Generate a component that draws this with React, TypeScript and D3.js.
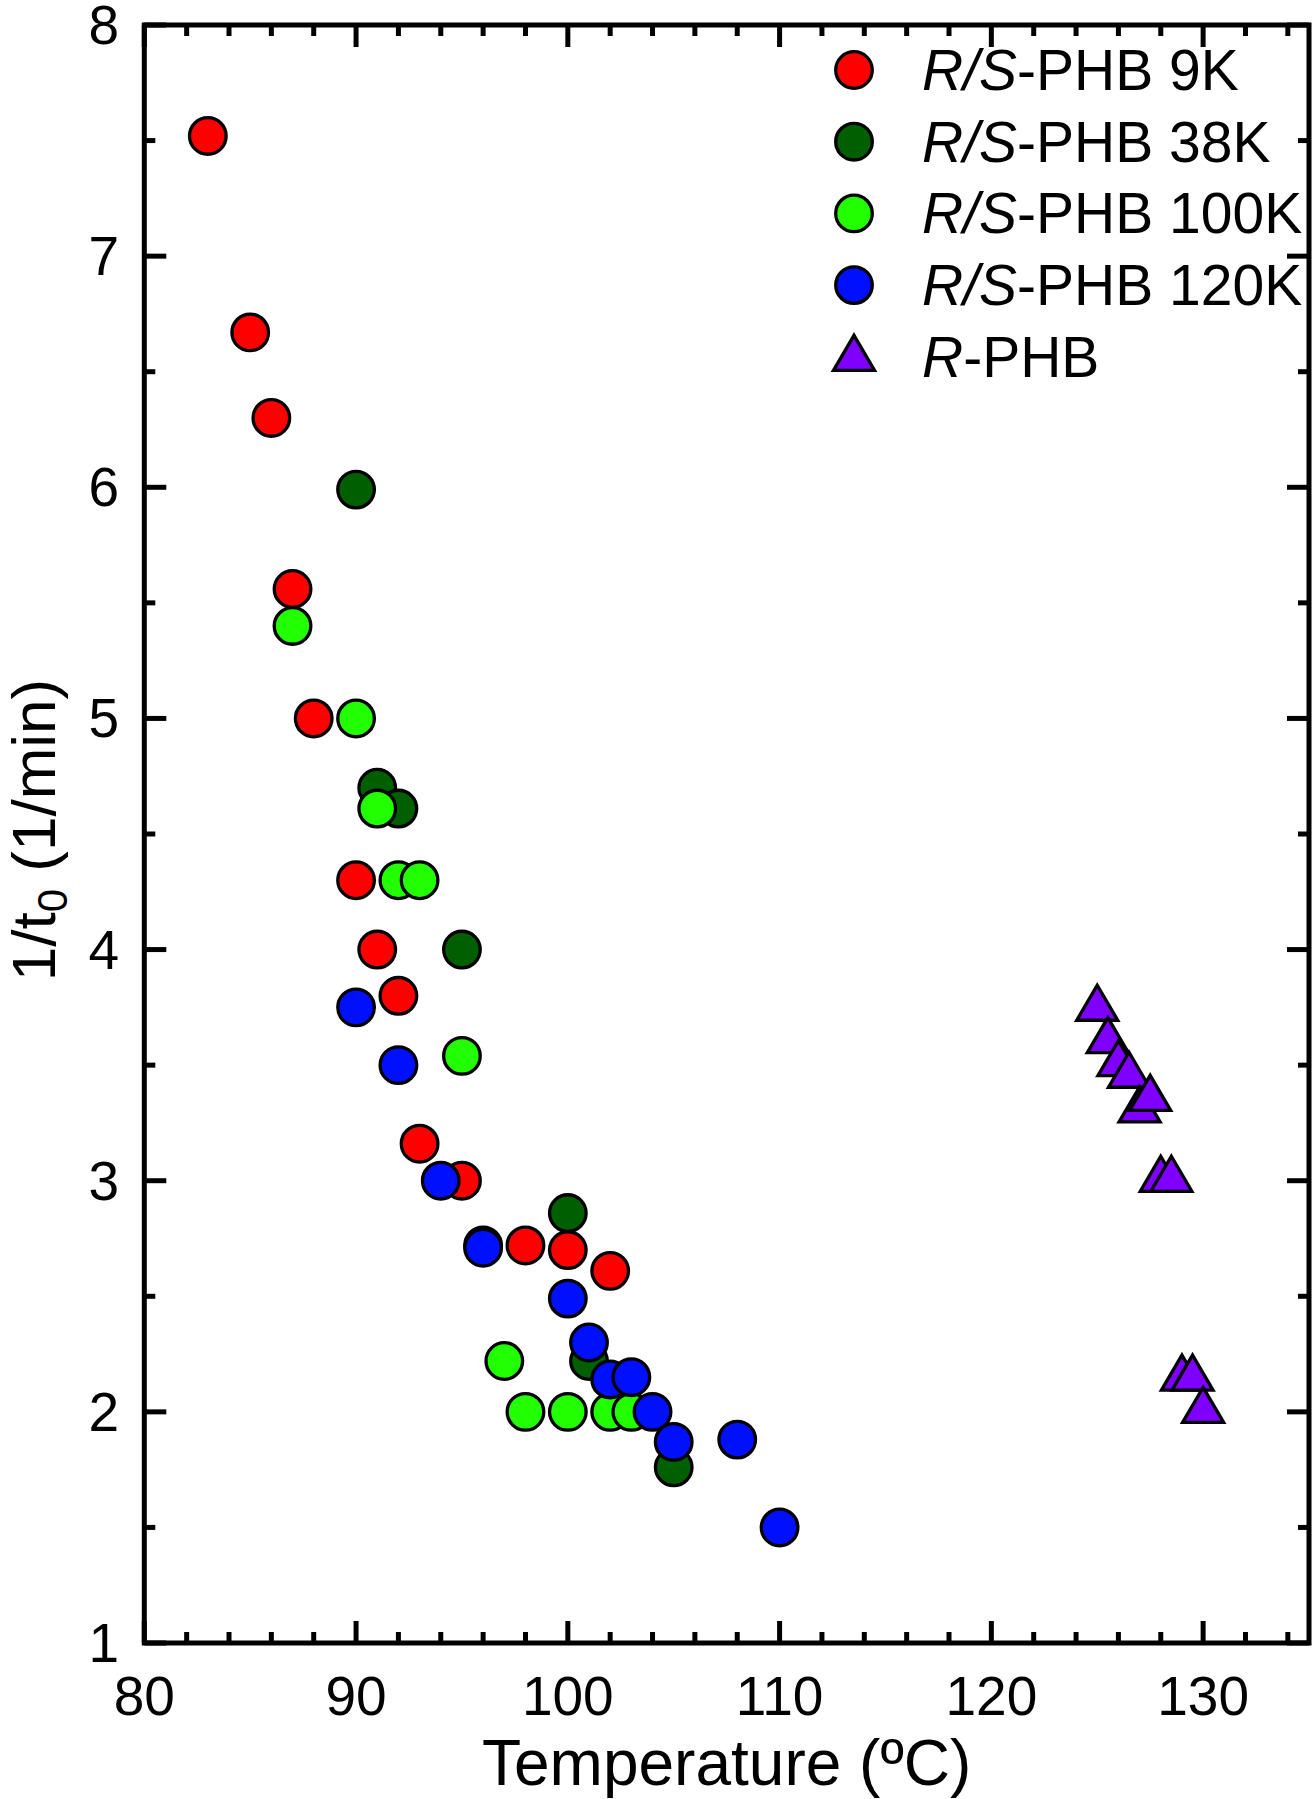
import React from 'react';
import * as d3 from 'd3';

// ---- data ----
const tempTicks = [80, 90, 100, 110, 120, 130];
const rateTicks = [1, 2, 3, 4, 5, 6, 7, 8];

const t9K = [83, 85, 86, 87, 88, 90, 91, 92, 93, 95, 96, 98, 100, 102];
const r9K = [7.52, 6.67, 6.30, 5.56, 5.00, 4.30, 4.00, 3.80, 3.16, 3.00, 2.72, 2.72, 2.70, 2.61];

const t38K = [90, 91, 92, 95, 100, 101, 105];
const r38K = [5.99, 4.70, 4.61, 4.00, 2.86, 2.22, 1.76];

const t100K = [87, 90, 91, 92, 93, 95, 97, 98, 100, 102, 103];
const r100K = [5.40, 5.00, 4.61, 4.30, 4.30, 3.54, 2.22, 2.00, 2.00, 2.00, 2.00];

const t120K = [90, 92, 94, 96, 100, 101, 102, 103, 104, 105, 108, 110];
const r120K = [3.75, 3.50, 3.00, 2.71, 2.49, 2.30, 2.14, 2.15, 2.00, 1.87, 1.88, 1.50];

const tR = [125, 125.5, 126, 126.5, 127, 127.5, 128, 128.5, 129, 129.5, 130];
const rR = [3.77, 3.63, 3.53, 3.48, 3.33, 3.38, 3.03, 3.03, 2.17, 2.17, 2.03];

const seriesNames = ['9K', '38K', '100K', '120K'];
const seriesColors = ['#ff0000', '#006000', '#22ff00', '#0010ff'];
const triColor = '#8000ff';

const W = 1315;
const H = 1799;
const FONT = '"Liberation Sans", Arial, Helvetica, sans-serif';

export default function App() {
  const x = d3.scaleLinear().domain([80, 135]).range([144.3, 1309]);
  const y = d3.scaleLinear().domain([1, 8]).range([1643, 25]);
  const [x0, x1] = x.range();
  const [y0, y1] = y.range();

  const xMinor = d3.range(80, 135.01, 2).filter((v) => v % 10 !== 0);
  const yMinor = d3.range(1.5, 8, 1);

  const seriesT = [t9K, t38K, t100K, t120K];
  const seriesR = [r9K, r38K, r100K, r120K];
  const drawOrder = [1, 0, 2, 3];

  const R = 18.3;
  const SW = 3.3;
  const triW = 41;
  const triH = 35;
  const tri = (cx: number, cy: number) =>
    `M${cx},${cy - triH / 2}L${cx + triW / 2},${cy + triH / 2}L${cx - triW / 2},${cy + triH / 2}Z`;

  const MAJ = 22;
  const MIN = 11;
  const TW = 5;

  const legX = 854;
  const legTextX = 922;
  const legY0 = 70;
  const legDy = 71.7;

  return (
    <svg
      width={W}
      height={H}
      viewBox={`0 0 ${W} ${H}`}
      style={{ position: 'absolute', left: 0, top: 0, background: '#fff' }}
      fontFamily={FONT}
    >
      <rect x={0} y={0} width={W} height={H} fill="#fff" />

      {/* ticks */}
      <g stroke="#000" strokeWidth={TW}>
        {tempTicks.map((v) => (
          <g key={'xt' + v}>
            <line x1={x(v)} x2={x(v)} y1={y0} y2={y0 - MAJ} />
            <line x1={x(v)} x2={x(v)} y1={y1} y2={y1 + MAJ} />
          </g>
        ))}
        {xMinor.map((v) => (
          <g key={'xm' + v}>
            <line x1={x(v)} x2={x(v)} y1={y0} y2={y0 - MIN} />
            <line x1={x(v)} x2={x(v)} y1={y1} y2={y1 + MIN} />
          </g>
        ))}
        {rateTicks.map((v) => (
          <g key={'yt' + v}>
            <line x1={x0} x2={x0 + MAJ} y1={y(v)} y2={y(v)} />
            <line x1={x1} x2={x1 - MAJ} y1={y(v)} y2={y(v)} />
          </g>
        ))}
        {yMinor.map((v) => (
          <g key={'ym' + v}>
            <line x1={x0} x2={x0 + MIN} y1={y(v)} y2={y(v)} />
            <line x1={x1} x2={x1 - MIN} y1={y(v)} y2={y(v)} />
          </g>
        ))}
      </g>

      {/* frame */}
      <rect
        x={x0}
        y={y1}
        width={x1 - x0}
        height={y0 - y1}
        fill="none"
        stroke="#000"
        strokeWidth={5}
        strokeLinejoin="miter"
      />

      {/* tick labels */}
      <g fontSize={55} fill="#000">
        {tempTicks.map((v) => (
          <text key={'xl' + v} x={x(v)} y={1715} textAnchor="middle">
            {v}
          </text>
        ))}
        {rateTicks.map((v) => (
          <text key={'yl' + v} x={119} y={y(v) + 19} textAnchor="end">
            {v}
          </text>
        ))}
      </g>

      {/* axis titles */}
      <text x={(x0 + x1) / 2} y={1785} textAnchor="middle" fontSize={64} fill="#000">
        Temperature (ºC)
      </text>
      <text
        transform={`translate(55, ${(y0 + y1) / 2 - 4}) rotate(-90)`}
        textAnchor="middle"
        fontSize={62}
        fill="#000"
      >
        1/t
        <tspan fontSize={42} dy={12}>0</tspan>
        <tspan dy={-12}> (1/min)</tspan>
      </text>

      {/* data */}
      {drawOrder.map((si) => (
        <g key={'s' + si} fill={seriesColors[si]} stroke="#000" strokeWidth={SW}>
          {seriesT[si].map((t, i) => (
            <circle key={i} cx={x(t)} cy={y(seriesR[si][i])} r={R} />
          ))}
        </g>
      ))}
      <g fill={triColor} stroke="#000" strokeWidth={SW} strokeLinejoin="miter">
        {tR.map((t, i) => (
          <path key={i} d={tri(x(t), y(rR[i]))} />
        ))}
      </g>

      {/* legend */}
      <g fontSize={57} fill="#000">
        {seriesNames.map((n, i) => (
          <g key={'lg' + n}>
            <circle
              cx={legX}
              cy={legY0 + i * legDy}
              r={R}
              fill={seriesColors[i]}
              stroke="#000"
              strokeWidth={SW}
            />
            <text x={legTextX} y={legY0 + i * legDy + 20}>
              <tspan fontStyle="italic">R/S</tspan>
              <tspan>{`-PHB ${n}`}</tspan>
            </text>
          </g>
        ))}
        <path
          d={tri(legX, legY0 + 4 * legDy - 4)}
          fill={triColor}
          stroke="#000"
          strokeWidth={SW}
          strokeLinejoin="miter"
        />
        <text x={legTextX} y={legY0 + 4 * legDy + 20}>
          <tspan fontStyle="italic">R</tspan>
          <tspan>-PHB</tspan>
        </text>
      </g>
    </svg>
  );
}
